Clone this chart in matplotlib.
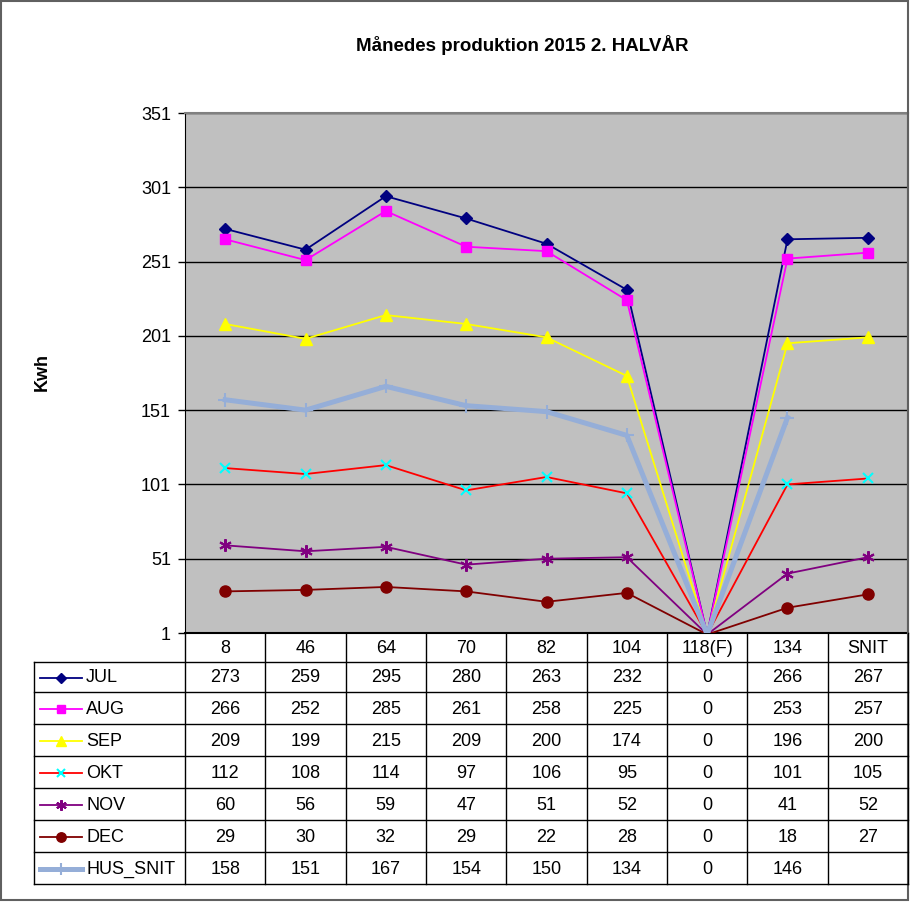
import numpy as np
import matplotlib
matplotlib.use("Agg")
from matplotlib import pyplot as plt
from matplotlib.lines import Line2D
from matplotlib.patches import Rectangle

plt.rcParams['font.family'] = ['Liberation Sans', 'DejaVu Sans']

# data
kategorier = ["8", "46", "64", "70", "82", "104", "118(F)", "134", "SNIT"]
serier = ["JUL", "AUG", "SEP", "OKT", "NOV", "DEC", "HUS_SNIT"]
jul = [273, 259, 295, 280, 263, 232, 0, 266, 267]
aug = [266, 252, 285, 261, 258, 225, 0, 253, 257]
sep = [209, 199, 215, 209, 200, 174, 0, 196, 200]
okt = [112, 108, 114, 97, 106, 95, 0, 101, 105]
nov = [60, 56, 59, 47, 51, 52, 0, 41, 52]
dec = [29, 30, 32, 29, 22, 28, 0, 18, 27]
hus_snit = [158, 151, 167, 154, 150, 134, 0, 146, None]
vaerdier = [jul, aug, sep, okt, nov, dec, hus_snit]
y_ticks = [1, 51, 101, 151, 201, 251, 301, 351]

# udseende pr. serie: linjefarve, markør, markørfarve, størrelse, linjebredde
stil = [
    ("#000080", "D", "#000080", 6.5, 1.3),
    ("#FF00FF", "s", "#FF00FF", 7.5, 1.3),
    ("#FFFF00", "^", "#FFFF00", 8, 1.3),
    ("#FF0000", "x", "#00FFFF", 7, 1.3),
    ("#800080", (6, 2, 0), "#800080", 9, 1.3),
    ("#800000", "o", "#800000", 8, 1.3),
    ("#95AED8", "+", "#95AED8", 10, 3.6),
]

FS = 13

W, H = 910, 902
fig = plt.figure(figsize=(W / 100, H / 100), dpi=100)

# plotområde i pixels
px0, px1 = 185, 908
py0, py1 = 113, 633
ax = fig.add_axes([px0 / W, (H - py1) / H, (px1 - px0) / W, (py1 - py0) / H])
ax.set_facecolor("#C0C0C0")

x = np.arange(len(kategorier))
for i, (navn, v) in enumerate(zip(serier, vaerdier)):
    lc, mk, mc, ms, lw = stil[i]
    y = np.array([np.nan if a is None else a for a in v], dtype=float)
    # markører kun hvor værdien ligger inden for aksen
    synlige = [j for j, a in enumerate(v) if a]
    ax.plot(x, y, color=lc, lw=lw, marker=mk, ms=ms, mfc=mc, mec=mc,
            mew=1.5 if mk in ("x", "+") or isinstance(mk, tuple) else 1,
            markevery=synlige, zorder=3 + i)

ax.set_xlim(-0.5, len(kategorier) - 0.5)
ax.set_ylim(1, 351)
ax.set_yticks(y_ticks)
ax.set_yticklabels([str(t) for t in y_ticks], fontsize=FS)
ax.set_xticks([])
ax.tick_params(axis="y", direction="out", length=5, width=1, pad=5)
ax.yaxis.grid(True, color="black", lw=1)
ax.set_axisbelow(True)
for s in ["top", "right"]:
    ax.spines[s].set_color("#808080")
    ax.spines[s].set_linewidth(1.5)
ax.spines["left"].set_color("black")
ax.spines["bottom"].set_color("black")
ax.spines["bottom"].set_linewidth(1.5)

# overlay i pixelkoordinater til tabel, titel og ramme
ov = fig.add_axes([0, 0, 1, 1], facecolor="none")
ov.set_xlim(0, W)
ov.set_ylim(H, 0)
ov.axis("off")

ov.text(522, 45, "Månedes produktion 2015 2. HALVÅR", ha="center", va="center",
        fontsize=13.5, fontweight="bold")
ov.text(42, 372, "Kwh", ha="center", va="center", rotation=90,
        fontsize=13, fontweight="bold")

# tabel
col_w = (px1 - px0) / len(kategorier)
kanter = [px0 + i * col_w for i in range(len(kategorier) + 1)]
leg_x0 = 34
raekker = [633, 661.7, 692.3, 724.3, 756.3, 788.3, 820.3, 852.3, 884.3]

for k in kanter:
    ov.plot([k, k], [raekker[0], raekker[-1]], color="black", lw=1)
ov.plot([leg_x0, leg_x0], [raekker[1], raekker[-1]], color="black", lw=1)
for r in raekker[1:]:
    ov.plot([leg_x0, px1], [r, r], color="black", lw=1)

for j, kat in enumerate(kategorier):
    ov.text((kanter[j] + kanter[j + 1]) / 2, (raekker[0] + raekker[1]) / 2 + 1, kat,
            ha="center", va="center", fontsize=FS)

for i, (navn, v) in enumerate(zip(serier, vaerdier)):
    yc = (raekker[i + 1] + raekker[i + 2]) / 2 + 1
    lc, mk, mc, ms, lw = stil[i]
    ov.add_line(Line2D([40, 82], [yc, yc], color=lc, lw=lw))
    ov.add_line(Line2D([61], [yc], marker=mk, ms=ms * 0.85, mfc=mc, mec=mc,
                       mew=1.5 if mk in ("x", "+") or isinstance(mk, tuple) else 1))
    ov.text(86, yc, navn, ha="left", va="center", fontsize=FS)
    for j, a in enumerate(v):
        if a is None:
            continue
        ov.text((kanter[j] + kanter[j + 1]) / 2, yc, str(a),
                ha="center", va="center", fontsize=FS)

# ydre ramme
ov.add_patch(Rectangle((1, 1), 907, 899, fill=False, ec="#606060", lw=1.5))

fig.savefig("out.png", dpi=100)
